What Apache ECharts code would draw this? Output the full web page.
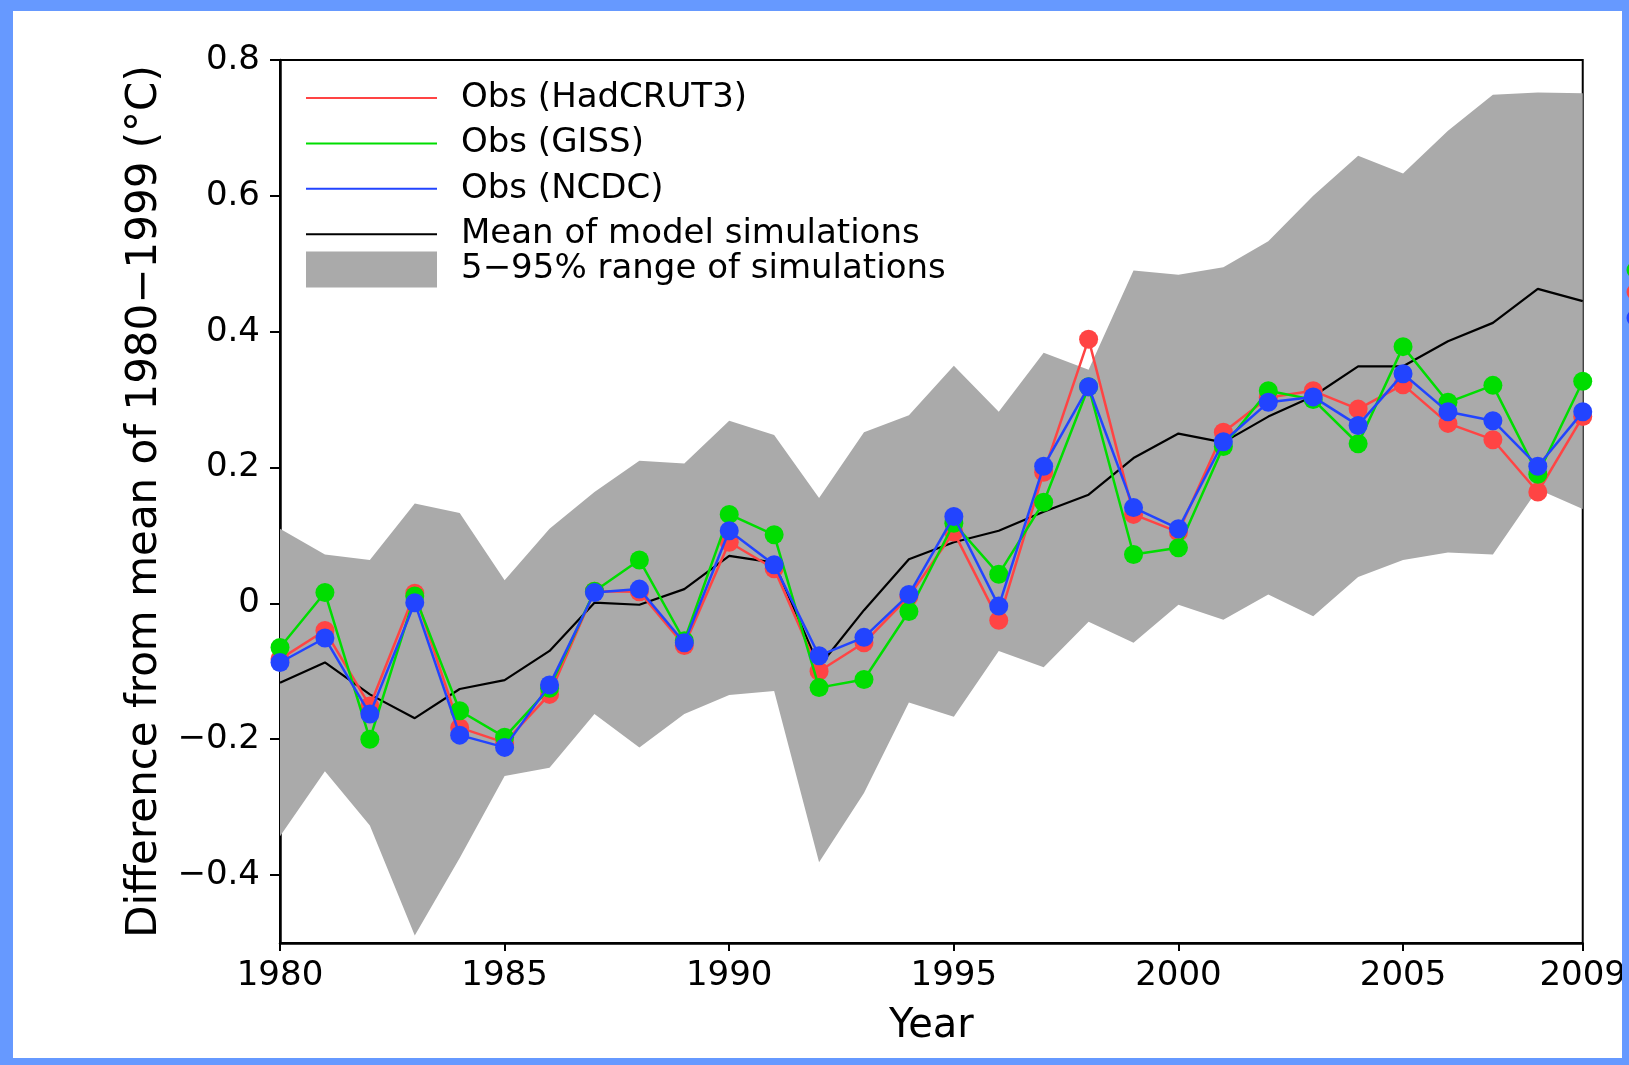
<!DOCTYPE html>
<html>
<head>
<meta charset="utf-8">
<script src="https://cdn.jsdelivr.net/npm/echarts@6/dist/echarts.min.js"></script>
<style>
html,body{margin:0;padding:0;background:#ffffff;}
#chart{width:1629px;height:1065px;}
</style>
</head>
<body>
<div id="chart"></div>
<script>
const years = ['1980','1981','1982','1983','1984','1985','1986','1987','1988','1989','1990','1991','1992','1993','1994','1995','1996','1997','1998','1999','2000','2001','2002','2003','2004','2005','2006','2007','2008','2009'];
const hadcrut3 = [-0.082,-0.040,-0.151,0.015,-0.183,-0.205,-0.134,0.018,0.017,-0.062,0.090,0.051,-0.100,-0.058,0.010,0.105,-0.025,0.193,0.389,0.131,0.105,0.252,0.303,0.313,0.286,0.322,0.265,0.241,0.164,0.275];
const giss = [-0.065,0.016,-0.200,0.011,-0.158,-0.197,-0.125,0.018,0.064,-0.055,0.131,0.101,-0.124,-0.112,-0.012,0.118,0.043,0.149,0.319,0.072,0.082,0.231,0.313,0.300,0.235,0.378,0.296,0.321,0.190,0.327];
const ncdc = [-0.087,-0.051,-0.163,0.001,-0.194,-0.212,-0.120,0.016,0.021,-0.058,0.107,0.057,-0.077,-0.050,0.013,0.128,-0.004,0.202,0.319,0.141,0.110,0.238,0.296,0.304,0.262,0.338,0.282,0.269,0.202,0.282];
const modelMean = [-0.117,-0.087,-0.134,-0.169,-0.126,-0.113,-0.070,0.001,-0.002,0.021,0.070,0.060,-0.093,-0.010,0.065,0.090,0.107,0.135,0.160,0.214,0.250,0.237,0.275,0.305,0.349,0.349,0.386,0.413,0.463,0.445];
const rangeUpper = [0.110,0.072,0.064,0.147,0.133,0.034,0.110,0.164,0.210,0.206,0.269,0.248,0.155,0.252,0.277,0.350,0.282,0.369,0.344,0.490,0.484,0.495,0.533,0.600,0.659,0.633,0.696,0.749,0.752,0.751];
const rangeLower = [-0.343,-0.247,-0.327,-0.489,-0.375,-0.254,-0.242,-0.163,-0.212,-0.163,-0.135,-0.129,-0.381,-0.279,-0.146,-0.167,-0.070,-0.094,-0.027,-0.058,-0.002,-0.024,0.013,-0.019,0.039,0.064,0.075,0.072,0.168,0.139];
const xTickLabels = ['1980','1985','1990','1995','2000','2005','2009'];
const yTicks = [-0.4,-0.2,0,0.2,0.4,0.6,0.8];

const FONT = 'DejaVu Sans';
const bandWidth = years.map((y, i) => +(rangeUpper[i] - rangeLower[i]).toFixed(4));
const showYear = (idx, val) => xTickLabels.indexOf(String(val)) >= 0;

const chart = echarts.init(document.getElementById('chart'), null, {renderer: 'canvas'});

const legendText = {fontFamily: FONT, fontSize: 34, color: '#000', lineHeight: 32, padding: [0, 0, 0, 19]};
const legendText2 = {fontFamily: FONT, fontSize: 34, color: '#000', lineHeight: 32, padding: [15, 0, 0, 19]};

chart.setOption({
  animation: false,
  backgroundColor: '#ffffff',
  grid: {left: 280, top: 60, right: 46, bottom: 122, show: true, borderColor: '#000', borderWidth: 2, backgroundColor: 'transparent'},
  legend: [
    {
      data: [
        {name: 'Obs (HadCRUT3)', icon: 'rect'},
        {name: 'Obs (GISS)', icon: 'rect'},
        {name: 'Obs (NCDC)', icon: 'rect'},
        {name: 'Mean of model simulations', icon: 'rect'}
      ],
      orient: 'vertical', left: 301, top: 76, itemWidth: 131, itemHeight: 2, itemGap: 11.4,
      textStyle: legendText, selectedMode: false
    },
    {
      data: [{name: '5\u221295% range of simulations', icon: 'rect'}],
      orient: 'vertical', left: 301, top: 241, itemWidth: 131, itemHeight: 36,
      textStyle: legendText2, selectedMode: false
    }
  ],
  xAxis: {
    type: 'category', data: years, boundaryGap: false,
    name: 'Year', nameLocation: 'middle', nameGap: 64,
    nameTextStyle: {fontFamily: FONT, fontSize: 40, color: '#000'},
    axisLine: {show: true, onZero: false, lineStyle: {color: '#000', width: 2.5}},
    axisTick: {show: true, length: 8, alignWithLabel: true, interval: showYear, lineStyle: {color: '#000', width: 2}},
    axisLabel: {fontFamily: FONT, fontSize: 34, color: '#000', margin: 16, interval: showYear, showMaxLabel: true},
    splitLine: {show: false}
  },
  yAxis: {
    type: 'value', min: -0.5, max: 0.8,
    name: 'Difference from mean of 1980\u22121999 (\u00b0C)', nameLocation: 'middle', nameGap: 96,
    nameTextStyle: {fontFamily: FONT, fontSize: 42, color: '#000'},
    axisLine: {show: true, onZero: false, lineStyle: {color: '#000', width: 2.5}},
    axisTick: {show: true, length: 10, lineStyle: {color: '#000', width: 2}, customValues: yTicks},
    axisLabel: {fontFamily: FONT, fontSize: 34, color: '#000', margin: 20, customValues: yTicks,
      formatter: v => v === 0 ? '0' : (v < 0 ? '\u2212' + Math.abs(v) : String(v))},
    splitLine: {show: false}
  },
  series: [
    {
      name: 'lowerBase', type: 'line', data: rangeLower, stack: 'band', stackStrategy: 'all',
      symbol: 'none', lineStyle: {opacity: 0, width: 0}, itemStyle: {color: '#aaaaaa'}, silent: true, z: 1
    },
    {
      name: '5\u221295% range of simulations', type: 'line', data: bandWidth, stack: 'band', stackStrategy: 'all',
      symbol: 'none', lineStyle: {opacity: 0, width: 0}, itemStyle: {color: '#aaaaaa'},
      areaStyle: {color: '#aaaaaa', opacity: 1}, silent: true, z: 1
    },
    {
      name: 'Mean of model simulations', type: 'line', data: modelMean,
      symbol: 'none', lineStyle: {color: '#000', width: 2.2}, itemStyle: {color: '#000'}, z: 2
    },
    {
      name: 'Obs (HadCRUT3)', type: 'line', data: hadcrut3,
      symbol: 'circle', symbolSize: 19, lineStyle: {color: '#ff4444', width: 2.5}, itemStyle: {color: '#ff4444'}, z: 3
    },
    {
      name: 'Obs (GISS)', type: 'line', data: giss,
      symbol: 'circle', symbolSize: 19, lineStyle: {color: '#00dd00', width: 2.5}, itemStyle: {color: '#00dd00'}, z: 4
    },
    {
      name: 'Obs (NCDC)', type: 'line', data: ncdc,
      symbol: 'circle', symbolSize: 19, lineStyle: {color: '#2244ff', width: 2.5}, itemStyle: {color: '#2244ff'}, z: 5
    }
  ],
  graphic: [
    {type: 'rect', shape: {x: 0, y: 0, width: 13, height: 1065}, style: {fill: '#6699ff'}, z: 100, silent: true},
    {type: 'rect', shape: {x: 0, y: 0, width: 1629, height: 11}, style: {fill: '#6699ff'}, z: 100, silent: true},
    {type: 'rect', shape: {x: 1622, y: 0, width: 7, height: 1065}, style: {fill: '#6699ff'}, z: 100, silent: true},
    {type: 'rect', shape: {x: 0, y: 1058, width: 1629, height: 7}, style: {fill: '#6699ff'}, z: 100, silent: true},
    {type: 'circle', shape: {cx: 1635, cy: 270, r: 8.5}, style: {fill: '#00dd00'}, z: 101, silent: true},
    {type: 'circle', shape: {cx: 1635, cy: 292, r: 8.5}, style: {fill: '#ff4444'}, z: 101, silent: true},
    {type: 'circle', shape: {cx: 1635, cy: 318, r: 8.5}, style: {fill: '#2244ff'}, z: 101, silent: true}
  ]
});
</script>
</body>
</html>
